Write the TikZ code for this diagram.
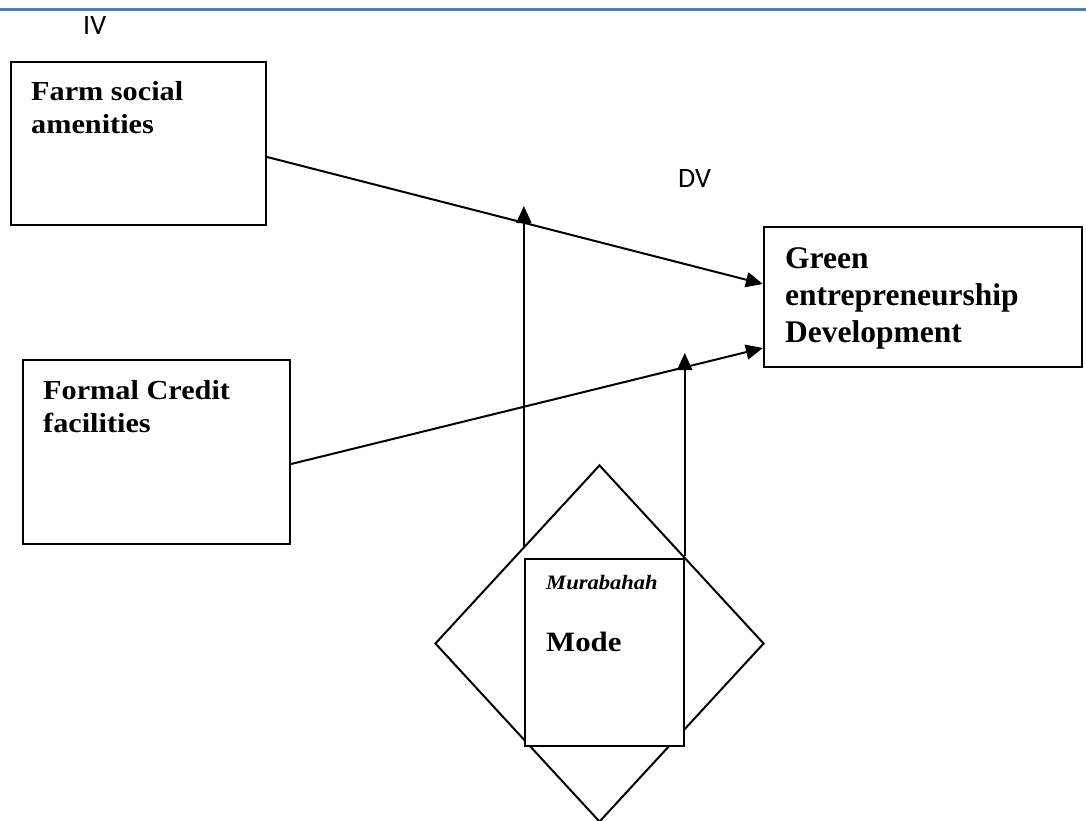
\documentclass[tikz,border=0pt]{standalone}
\usepackage{fontspec}
\setmainfont{Liberation Serif}
\newfontfamily\cambria[FakeStretch=1.1]{Liberation Serif}
\newfontfamily\calibri{Carlito}
\usetikzlibrary{arrows.meta, shapes.geometric, calc}
\definecolor{rulecolor}{HTML}{4F81BD}

\begin{document}
\begin{tikzpicture}[x=1pt, y=-1pt,
    box/.style={draw, line width=2.2pt, inner sep=0pt},
    boxtext/.style={anchor=north west, inner sep=0pt, align=left, font=\cambria\bfseries\fontsize{27.5}{33.5}\selectfont},
    tag/.style={anchor=base west, inner sep=0pt, font=\calibri\fontsize{28}{34}\selectfont},
    link/.style={-{Triangle[length=17pt, width=15pt]}, line width=2pt}]
    \useasboundingbox (0,0) rectangle (1086,821);
    \draw[rulecolor, line width=3pt] (0,9.5) -- (1086,9.5);

    \node[tag] (iv) at (83,35) {IV};
    \node[tag] (dv) at (678,187) {DV};

    % independent variables
    \node[box, minimum width=255pt, minimum height=163pt] (farm) at (138.5,143.5) {};
    \node[boxtext] (farmtxt) at (31,81) {Farm social\\amenities};
    \node[box, minimum width=267pt, minimum height=184pt] (formal) at (156.5,452) {};
    \node[boxtext] (formaltxt) at (43,380) {Formal Credit\\facilities};

    % dependent variable
    \node[box, minimum width=318pt, minimum height=140pt] (green) at (923,297) {};
    \node[boxtext, font=\bfseries\fontsize{31.5}{37}\selectfont] (greentxt) at (785,247) {Green\\entrepreneurship\\Development};

    % moderator
    \node[draw, diamond, line width=2pt, minimum width=329pt, minimum height=357pt, inner sep=0pt] (diam) at (599.5,643.5) {};
    \node[box, fill=white, minimum width=159pt, minimum height=187pt] (mode) at (604.5,652.5) {};
    \node[anchor=base west, inner sep=0pt, font=\cambria\bfseries\itshape\fontsize{20.5}{24}\selectfont] (murtxt) at (546,589) {Murabahah};
    \node[anchor=base west, inner sep=0pt, font=\cambria\bfseries\fontsize{28}{34}\selectfont] (modetxt) at (546,651) {Mode};

    \draw[link] ([yshift=-13.5pt]farm.east) -- ([yshift=13pt]green.west);
    \draw[link] ([yshift=-12pt]formal.east) -- ([yshift=-51pt]green.west);

    \coordinate (modL) at ($(diam.north)!0.457!(diam.west)$);
    \coordinate (modR) at ($(diam.north)!0.515!(diam.east)$);
    \draw[link] (modL) -- (modL |- 0,206);
    \draw[link] (modR) -- (modR |- 0,353);
\end{tikzpicture}
\end{document}
